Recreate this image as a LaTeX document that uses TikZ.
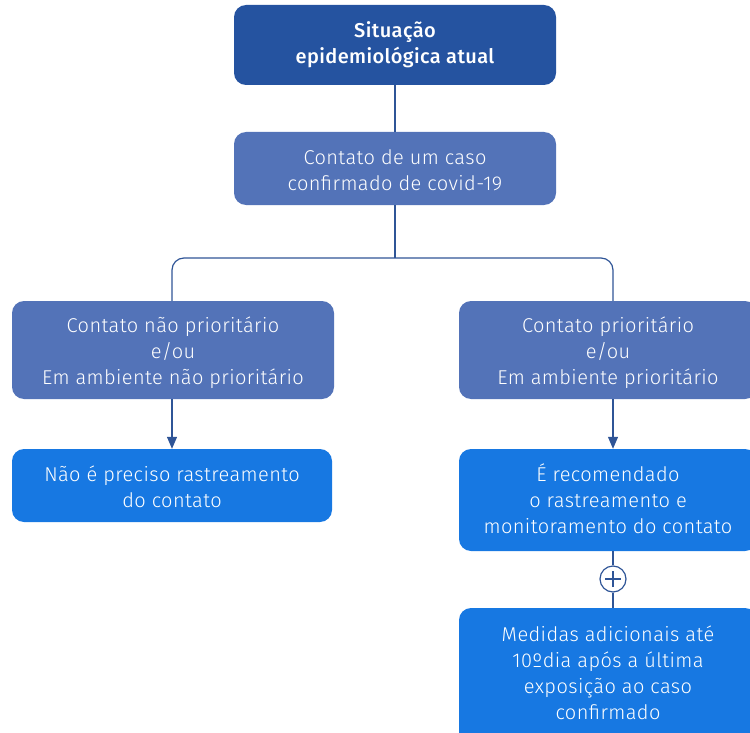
\documentclass[tikz,border=0pt]{standalone}
\usepackage{fontspec}
\setmainfont{Fira Sans Light}[BoldFont={Fira Sans Medium},LetterSpace=2]
\usetikzlibrary{arrows.meta}
\definecolor{cdark}{HTML}{2553A0}
\definecolor{cmid}{HTML}{5373B8}
\definecolor{cbright}{HTML}{1778E2}
\definecolor{cline}{HTML}{2F5597}
% shift text down (#1) or up (#2) inside its box
\newcommand\boxtxt[3]{\raisebox{0pt}[\dimexpr\height+#1*2\relax][\dimexpr\depth+#2*2\relax]{\begin{tabular}{@{}c@{}}#3\end{tabular}}}
\tikzset{
  box/.style={rounded corners=12pt, text=white, align=center, inner sep=0pt,
    font=\fontsize{20}{26}\selectfont},
  darkbox/.style={box, fill=cdark, font=\bfseries\fontsize{20}{26}\selectfont},
  midbox/.style={box, fill=cmid},
  brightbox/.style={box, fill=cbright},
  conn/.style={draw=cline, line width=1.2pt},
  arr/.style={conn, -{Triangle[length=12pt,width=10pt]}}
}
\begin{document}
\begin{tikzpicture}[x=1pt,y=-1pt]
\useasboundingbox (0,0) rectangle (750,733);
\node[darkbox, minimum width=322pt, minimum height=80pt] (top) at (395,45) {\boxtxt{0pt}{0pt}{Situação\\epidemiológica atual}};
\node[midbox, minimum width=322pt, minimum height=73pt] (caso) at (395,168.5) {\boxtxt{4pt}{0pt}{Contato de um caso\\confirmado de covid-19}};
\node[midbox, minimum width=322pt, minimum height=98pt] (naop) at (173,350) {\boxtxt{3pt}{0pt}{Contato não prioritário\\e/ou\\Em ambiente não prioritário}};
\node[midbox, minimum width=298pt, minimum height=98pt] (prio) at (608,350) {\boxtxt{3pt}{0pt}{Contato prioritário\\e/ou\\Em ambiente prioritário}};
\node[brightbox, minimum width=320pt, minimum height=73pt] (nrast) at (172,485.5) {\boxtxt{4pt}{0pt}{Não é preciso rastreamento\\do contato}};
\node[brightbox, minimum width=298pt, minimum height=102pt] (rec) at (608,500) {\boxtxt{2pt}{0pt}{É recomendado\\o rastreamento e\\monitoramento do contato}};
\node[brightbox, minimum width=298pt, minimum height=140pt] (med) at (608,678) {\boxtxt{0pt}{3pt}{Medidas adicionais até\\10ºdia após a última\\exposição ao caso\\confirmado}};
\node[draw=cline, line width=1.2pt, circle, minimum size=26pt, inner sep=0pt] (plus) at (613,579) {};
\draw[cline, line width=1.2pt] ([xshift=-8pt]plus.center) -- ([xshift=8pt]plus.center)
  ([yshift=-8pt]plus.center) -- ([yshift=8pt]plus.center);
\draw[conn] (top.south) -- (caso.north);
\coordinate (mid) at (395,258);
\draw[conn] (caso.south) -- (mid);
\draw[conn, rounded corners=12pt] (naop.north -| 172,0) -- (172,258) -- (613,258) -- (prio.north -| 613,0);
\draw[arr] (naop.south -| 172,0) -- (nrast.north -| 172,0);
\draw[arr] (prio.south -| 613,0) -- (rec.north -| 613,0);
\draw[conn] (rec.south -| plus) -- (plus.north);
\draw[conn] (plus.south) -- (med.north -| plus);
\end{tikzpicture}
\end{document}
